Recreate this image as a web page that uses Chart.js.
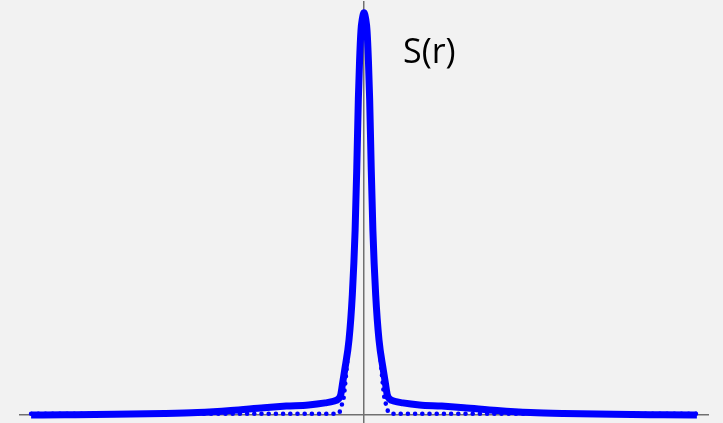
<!DOCTYPE html>
<html>
<head>
<meta charset="utf-8">
<script src="https://cdn.jsdelivr.net/npm/chart.js@4/dist/chart.umd.min.js"></script>
<style>
  html, body { margin: 0; padding: 0; background: #f2f2f2; }
  #wrap { position: relative; width: 723px; height: 423px; }
  #label { position: absolute; left: 403px; top: 33px; font-family: "Open Sans", sans-serif; font-size: 34px; color: #000; line-height: 1; }
</style>
</head>
<body>
<div id="wrap">
  <canvas id="c" width="723" height="423"></canvas>
  <div id="label">S(r)</div>
</div>
<script>
// radial distance (one half of the profile, mirrored below)
const rHalf = [0, 0.3, 0.55, 0.8, 1.02, 1.3, 1.6, 2.1, 2.7, 3.5, 3.9, 4.2, 4.6, 5.5, 7, 10, 14, 18, 24, 30, 36, 45, 54, 60];
// S(r): sharp central peak sitting on a broad, slowly decaying tail
const sHalf = [1.0, 0.985, 0.955, 0.88, 0.785, 0.615, 0.46, 0.30, 0.187, 0.11, 0.075, 0.05, 0.040, 0.034, 0.030, 0.025, 0.022, 0.018, 0.011, 0.006, 0.0035, 0.0015, 0.0005, 0.0];

// narrow component alone (dotted curve)
const rPeakHalf = [0, 0.3, 0.55, 0.8, 1.02, 1.3, 1.6, 2.1, 2.7, 3.3, 3.7, 4.0, 4.3, 4.7, 5.0, 10, 20, 30, 40, 50, 60];
const sPeakHalf = [1.0, 0.985, 0.955, 0.88, 0.785, 0.615, 0.46, 0.30, 0.187, 0.09, 0.04, 0.025, 0.01, 0.004, 0.003, 0.003, 0.003, 0.003, 0.003, 0.003, 0.003];

function mirror(rs, vs) {
  const pts = [];
  for (let i = rs.length - 1; i > 0; i--) pts.push({ x: -rs[i], y: vs[i] });
  for (let i = 0; i < rs.length; i++) pts.push({ x: rs[i], y: vs[i] });
  return pts;
}

const axisStyle = { color: '#707070', width: 1.5 };

new Chart(document.getElementById('c'), {
  type: 'line',
  data: {
    datasets: [
      {
        data: mirror(rPeakHalf, sPeakHalf),
        borderColor: '#0000ff',
        borderWidth: 4.6,
        borderDash: [0, 7.2],
        borderCapStyle: 'round',
        pointRadius: 0,
        cubicInterpolationMode: 'monotone',
        fill: false
      },
      {
        data: mirror(rHalf, sHalf),
        borderColor: '#0000ff',
        borderWidth: 7,
        borderJoinStyle: 'round',
        borderCapStyle: 'butt',
        pointRadius: 0,
        cubicInterpolationMode: 'monotone',
        fill: false
      }
    ]
  },
  options: {
    responsive: false,
    animation: false,
    devicePixelRatio: 1,
    layout: { padding: { left: 20, right: 15, top: 2, bottom: 0 } },
    plugins: { legend: { display: false }, tooltip: { enabled: false }, title: { display: false } },
    scales: {
      x: {
        type: 'linear', min: -62, max: 62,
        position: { y: 0 },
        grid: { display: false, drawTicks: false },
        ticks: { display: false },
        border: { display: true, color: axisStyle.color, width: axisStyle.width },
        z: 1
      },
      y: {
        type: 'linear', min: -0.02, max: 1.027,
        position: { x: 0 },
        grid: { display: false, drawTicks: false },
        ticks: { display: false },
        border: { display: true, color: axisStyle.color, width: axisStyle.width },
        z: 1
      }
    }
  }
});
</script>
</body>
</html>
